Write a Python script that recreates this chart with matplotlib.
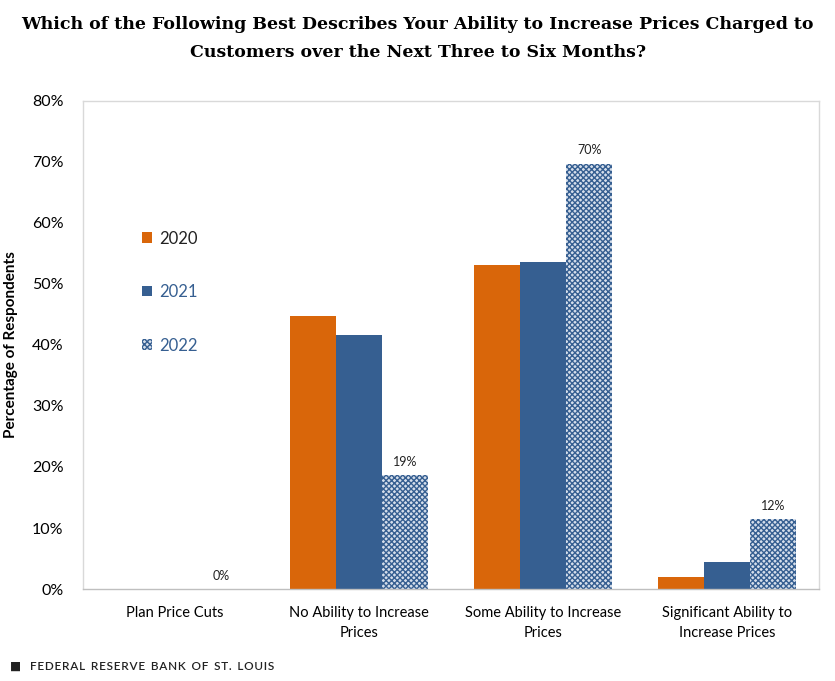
import numpy as np
import matplotlib.pyplot as plt
from matplotlib.patches import Patch

# Survey shares (percent)
categories = ['Plan Price Cuts', 'No Ability to Increase\nPrices',
              'Some Ability to Increase\nPrices', 'Significant Ability to\nIncrease Prices']
vals_2020 = [0.0, 44.7, 53.1, 2.0]
vals_2021 = [0.0, 41.7, 53.6, 4.4]
vals_2022 = [0.0, 18.7, 69.7, 11.5]
labels_2022 = ['0%', '19%', '70%', '12%']
yticks = [0, 10, 20, 30, 40, 50, 60, 70, 80]

orange = '#D9660A'
blue = '#365F91'
sans = ['Lato', 'DejaVu Sans']

plt.rcParams['hatch.linewidth'] = 1.0

fig = plt.figure(figsize=(8.35, 6.81), dpi=100)
ax = fig.add_axes([0.0994, 0.135, 0.882, 0.717])

x = np.arange(len(categories))
w = 0.25
ax.bar(x - w, vals_2020, w, color=orange, linewidth=0)
ax.bar(x, vals_2021, w, color=blue, linewidth=0)
ax.bar(x + w, vals_2022, w, facecolor='#d5deeb', edgecolor=blue,
       hatch='xxxxxx', linewidth=0)

for xi, v, lab in zip(x, vals_2022, labels_2022):
    ax.text(xi + w, v + 1.2, lab, ha='center', va='bottom', fontsize=9,
            family=sans, color='#222222')

ax.set_xlim(-0.5, 3.5)
ax.set_ylim(0, 80)
ax.set_yticks(yticks)
ax.set_yticklabels([f'{t}%' for t in yticks], family=sans, fontsize=11.5)
ax.set_xticks(x)
ax.set_xticklabels(categories, family=sans, fontsize=10.5, linespacing=1.6)
ax.tick_params(length=0, pad=12)
ax.tick_params(axis='y', pad=14)
for s in ax.spines.values():
    s.set_color('#d9d9d9')
    s.set_linewidth(1.0)
ax.spines['bottom'].set_color('#bfbfbf')

ax.set_ylabel('Percentage of Respondents', family=sans, fontsize=11,
              fontweight='bold', labelpad=10)

handles = [Patch(facecolor=orange, linewidth=0),
           Patch(facecolor=blue, linewidth=0),
           Patch(facecolor='#d5deeb', edgecolor=blue, hatch='xxxxxx', linewidth=0)]
leg = ax.legend(handles, ['2020', '2021', '2022'], loc='upper left',
                bbox_to_anchor=(0.06, 0.765), frameon=False, labelspacing=2.25,
                handlelength=0.6, handleheight=0.6, handletextpad=0.45,
                prop={'family': sans, 'size': 12})
for t, c in zip(leg.get_texts(), ['#222222', blue, blue]):
    t.set_color(c)

fig.text(0.5, 0.976, 'Which of the Following Best Describes Your Ability to Increase Prices Charged to\n'
         'Customers over the Next Three to Six Months?', ha='center', va='top',
         family='DejaVu Serif', fontweight='bold', fontsize=12.5, linespacing=1.85)

footer = '  '.join('\u200a'.join(word) for word in 'FEDERAL RESERVE BANK OF ST. LOUIS'.split())
fig.text(0.012, 0.0135, '\u25a0', fontsize=8.5, family=sans, color='#222222', va='bottom')
fig.text(0.036, 0.0135, footer, fontsize=8.5, family=sans, fontweight='semibold',
         color='#222222', va='bottom')

fig.savefig('out.png', dpi=100)
